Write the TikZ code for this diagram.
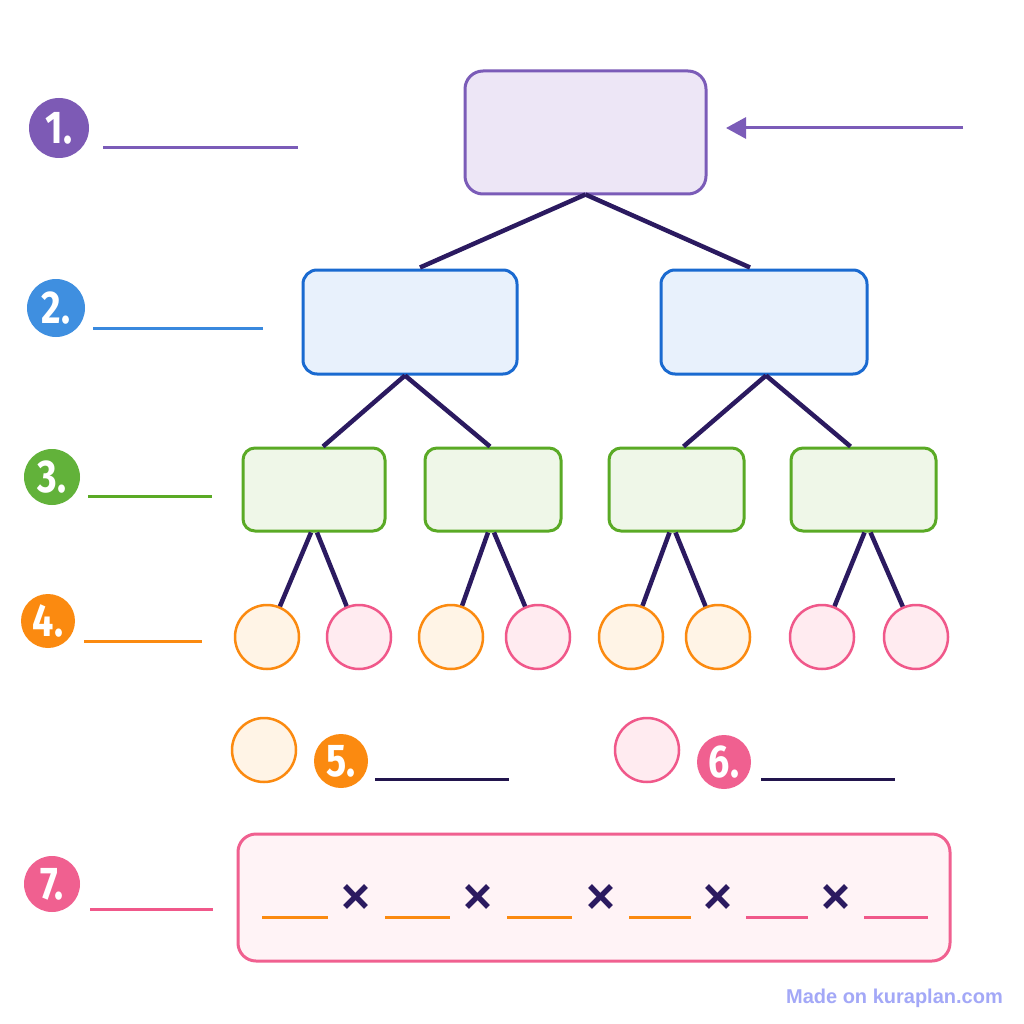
\documentclass[tikz,border=0pt]{standalone}
\usepackage{fontspec}
\setmainfont{Fira Sans}
\newfontfamily\numfont{Fira Sans}[FakeStretch=0.82]
\newfontfamily\wmfont{Liberation Sans}
\usetikzlibrary{arrows.meta}
\definecolor{pur}{HTML}{7B5CB8}
\definecolor{purfill}{HTML}{EDE6F6}
\definecolor{purnum}{HTML}{7D5AB5}
\definecolor{blu}{HTML}{1A6AD0}
\definecolor{blufill}{HTML}{E8F1FC}
\definecolor{blunum}{HTML}{3F8FE0}
\definecolor{grn}{HTML}{5AAA25}
\definecolor{grnfill}{HTML}{EFF7E8}
\definecolor{grnnum}{HTML}{62B23A}
\definecolor{org}{HTML}{FB8A10}
\definecolor{orgfill}{HTML}{FFF4E6}
\definecolor{pnk}{HTML}{F0588A}
\definecolor{pnkfill}{HTML}{FFEBF0}
\definecolor{pnknum}{HTML}{F06090}
\definecolor{navy}{HTML}{2B1A60}
\definecolor{wm}{HTML}{A3A8F7}
\begin{document}
\begin{tikzpicture}[x=1pt,y=-1pt,
  box/.style={draw, rounded corners=#1, line width=3pt, inner sep=0pt},
  bigbox/.style={box=18pt, draw=pur, fill=purfill},
  l2box/.style={box=14pt, draw=blu, fill=blufill, minimum height=104pt},
  l3box/.style={box=12pt, draw=grn, fill=grnfill, minimum height=83pt},
  ocirc/.style={circle, draw=org, fill=orgfill, line width=2.5pt, minimum size=64pt, inner sep=0pt},
  pcirc/.style={circle, draw=pnk, fill=pnkfill, line width=2.5pt, minimum size=64pt, inner sep=0pt},
  numc/.style={circle, fill=#1, text=white, inner sep=0pt, font=\numfont\bfseries\fontsize{46}{46}\selectfont},
  conn/.style={draw=navy, line width=4.5pt},
  blank/.style={line width=3pt},
  times/.style={text=navy, font=\fontsize{70}{70}\selectfont, inner sep=0pt}
]
\useasboundingbox (0,0) rectangle (1024,1024);
\fill[white] (0,0) rectangle (1024,1024);

% number markers and answer lines
\node[numc=purnum, minimum size=60pt] (n1) at (59,128) {1.};
\node[numc=blunum, minimum size=58pt] (n2) at (56,308) {2.};
\node[numc=grnnum, minimum size=56pt] (n3) at (52,477) {3.};
\node[numc=org, minimum size=54pt] (n4) at (48,621) {4.};
\node[numc=org, minimum size=54pt] (n5) at (341,761) {5.};
\node[numc=pnknum, minimum size=54pt] (n6) at (724,762) {6.};
\node[numc=pnknum, minimum size=56pt] (n7) at (52,884) {7.};

\draw[blank, pur] (103,148) -- (298,148);
\draw[blank, blunum!85!blu] (93,328) -- (263,328);
\draw[blank, grn] (88,496) -- (212,496);
\draw[blank, org] (84,641) -- (202,641);
\draw[blank, navy!80!black] (375,779) -- (509,779);
\draw[blank, navy!80!black] (761,779) -- (895,779);
\draw[blank, pnk] (90,909) -- (213,909);

% tree boxes
\node[bigbox, minimum width=241pt, minimum height=123pt] (top) at (585.5,132.5) {};
\node[l2box, minimum width=214pt] (bL) at (410,322) {};
\node[l2box, minimum width=206pt] (bR) at (764,322) {};
\node[l3box, minimum width=142pt] (g1) at (314,489.5) {};
\node[l3box, minimum width=136pt] (g2) at (493,489.5) {};
\node[l3box, minimum width=135pt] (g3) at (676.5,489.5) {};
\node[l3box, minimum width=145pt] (g4) at (863.5,489.5) {};

\node[ocirc] (c1) at (267,637) {};
\node[pcirc] (c2) at (359,637) {};
\node[ocirc] (c3) at (451,637) {};
\node[pcirc] (c4) at (538,637) {};
\node[ocirc] (c5) at (631,637) {};
\node[ocirc] (c6) at (718,637) {};
\node[pcirc] (c7) at (822,637) {};
\node[pcirc] (c8) at (916,637) {};

\node[ocirc] (k5) at (264,750) {};
\node[pcirc] (k6) at (647,750) {};

% arrow into top box
\coordinate (arrS) at (963,128);
\coordinate (arrT) at (726,128);
\draw[pur, line width=3pt, -{Triangle[length=20pt,width=21pt]}] (arrS) -- (arrT);

% connectors
\draw[conn] ([yshift=1pt]top.south) -- ([xshift=10pt,yshift=1pt]bL.north);
\draw[conn] ([yshift=1pt]top.south) -- ([xshift=-14pt,yshift=1pt]bR.north);
\draw[conn] ([xshift=-5pt]bL.south) -- ([xshift=9pt]g1.north);
\draw[conn] ([xshift=-5pt]bL.south) -- ([xshift=-3pt]g2.north);
\draw[conn] ([xshift=2pt]bR.south) -- ([xshift=7pt]g3.north);
\draw[conn] ([xshift=2pt]bR.south) -- ([xshift=-13pt]g4.north);
\draw[conn] ([xshift=-3pt]g1.south) -- (c1);
\draw[conn] ([xshift=3pt]g1.south) -- (c2);
\draw[conn] ([xshift=-5pt]g2.south) -- (c3);
\draw[conn] ([xshift=1pt]g2.south) -- (c4);
\draw[conn] ([xshift=-7pt]g3.south) -- (c5);
\draw[conn] ([xshift=-1pt]g3.south) -- (c6);
\draw[conn] ([xshift=1pt]g4.south) -- (c7);
\draw[conn] ([xshift=7pt]g4.south) -- (c8);

% bottom product box
\node[box=18pt, draw=pnknum, fill=pnkfill!60, minimum width=712pt, minimum height=127pt] (prod) at (594,897.5) {};
\draw[blank, org] (262,917) -- (328,917);
\draw[blank, org] (385,917) -- (450,917);
\draw[blank, org] (507,917) -- (572,917);
\draw[blank, org] (629,917) -- (691,917);
\draw[blank, pnk] (746,917) -- (808,917);
\draw[blank, pnk] (864,917) -- (928,917);
\node[times] (x1) at (356,901) {×};
\node[times] (x2) at (478,901) {×};
\node[times] (x3) at (601,901) {×};
\node[times] (x4) at (718,901) {×};
\node[times] (x5) at (836,901) {×};

% watermark
\node[text=wm, font=\wmfont\bfseries\fontsize{20}{20}\selectfont, anchor=east, inner sep=0pt] (wm) at (1003,998) {Made on kuraplan.com};
\end{tikzpicture}
\end{document}
